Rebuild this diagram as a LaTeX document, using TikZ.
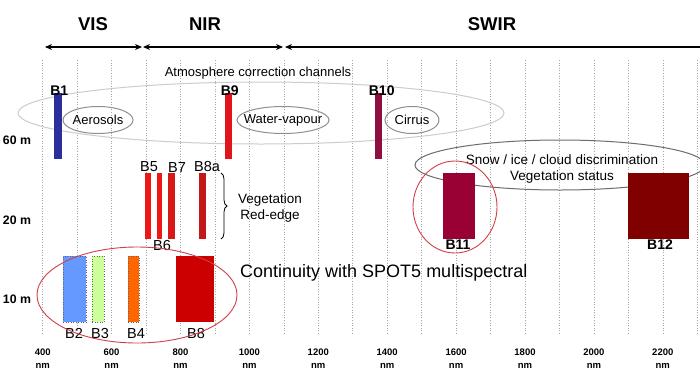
\documentclass[tikz,border=0pt]{standalone}
\usepackage{fontspec}
\setmainfont{Liberation Sans}
\usetikzlibrary{shapes.geometric,arrows.meta,decorations.pathreplacing}
\definecolor{cB1}{HTML}{2B2F9A}
\definecolor{cB9}{HTML}{E0141A}
\definecolor{cB10}{HTML}{8E1040}
\definecolor{cB5}{HTML}{F01616}
\definecolor{cB7}{HTML}{D81818}
\definecolor{cB8a}{HTML}{C41818}
\definecolor{cB2}{HTML}{6699FF}
\definecolor{cB3}{HTML}{CCFF99}
\definecolor{cB4}{HTML}{FF6600}
\definecolor{cB8}{HTML}{CC0000}
\definecolor{cB11}{HTML}{990033}
\definecolor{cB12}{HTML}{800000}
\definecolor{ellgray}{HTML}{909090}
\definecolor{ellred}{HTML}{D04048}
\tikzset{
  grid/.style={draw=gray!70, dotted, line width=0.6pt},
  bar/.style={rectangle, inner sep=0pt, anchor=north west, draw=none},
  bardot/.style={rectangle, inner sep=0pt, anchor=north west, draw=black!60, dotted, line width=0.5pt},
  blabel/.style={font=\fontsize{14}{14}\selectfont\bfseries, inner sep=0pt},
  blabelr/.style={font=\fontsize{14.5}{14}\selectfont, inner sep=0pt},
  head/.style={font=\fontsize{18.5}{18}\selectfont\bfseries, inner sep=0pt},
  axlab/.style={font=\fontsize{9.5}{13}\selectfont\bfseries, align=center, inner sep=0pt},
  reslab/.style={font=\fontsize{12.3}{12}\selectfont\bfseries, inner sep=0pt},
  txt/.style={font=\fontsize{13}{16}\selectfont, align=center, inner sep=0pt},
  ellg/.style={ellipse, draw=ellgray, line width=1pt, inner sep=0pt},
  ellr/.style={ellipse, draw=ellred, line width=0.9pt, inner sep=0pt},
  rng/.style={line width=1.4pt, black},
}
\begin{document}
\begin{tikzpicture}[x=1pt,y=-1pt]
\useasboundingbox[fill=white] (0,0) rectangle (700,383);
% grid lines and axis labels
\foreach \i in {0,...,19} {
  \pgfmathsetmacro{\xx}{42.7+34.45*\i}
  \draw[grid] (\xx,60) -- (\xx,334);
}
\foreach \i/\lam in {0/400,2/600,4/800,6/1000,8/1200,10/1400,12/1600,14/1800,16/2000,18/2200} {
  \pgfmathsetmacro{\xx}{42.7+34.45*\i}
  \node[axlab] (ax\lam) at (\xx,359) {\lam\\nm};
}
% headers
\node[head] (vis) at (93,24) {VIS};
\node[head] (nir) at (205,24) {NIR};
\node[head] (swir) at (492,24) {SWIR};
\coordinate (a0) at (45,47);
\coordinate (a1) at (142,47);
\coordinate (a2) at (143,47);
\coordinate (a3) at (283,47);
\coordinate (a4) at (285,47);
\coordinate (a5) at (700,47);
\draw[rng, {Stealth[length=7pt,width=6pt]}-{Stealth[length=7pt,width=6pt]}] (a0) -- (a1);
\draw[rng, {Stealth[length=7pt,width=6pt]}-{Stealth[length=7pt,width=6pt]}] (a2) -- (a3);
\draw[rng, {Stealth[length=7pt,width=6pt]}-] (a4) -- (a5);
% atmosphere ellipses
\node[ellg, minimum width=486pt, minimum height=62pt, draw=gray!40] (atm) at (261,113) {};
\node[txt] (atmtxt) at (258,73) {Atmosphere correction channels};
\node[ellg, minimum width=70pt, minimum height=27pt] (aer) at (98,120) {};
\node[txt] at (aer.center) {Aerosols};
\node[ellg, minimum width=92pt, minimum height=27pt] (wv) at (283,120) {};
\node[txt] at (wv.center) {Water-vapour};
\node[ellg, minimum width=54pt, minimum height=27pt] (cir) at (412,120) {};
\node[txt] at (cir.center) {Cirrus};
% 60 m bands
\node[bar, fill=cB1, minimum width=8pt, minimum height=66pt] (b1) at (54,93) {};
\node[blabel, anchor=south] at ([xshift=1pt,yshift=-3pt]b1.north) {B1};
\node[bar, fill=cB9, minimum width=7pt, minimum height=66pt] (b9) at (225,93) {};
\node[blabel, anchor=south] at ([xshift=1pt,yshift=-3pt]b9.north) {B9};
\node[bar, fill=cB10, minimum width=7pt, minimum height=66pt] (b10) at (375,93) {};
\node[blabel, anchor=south] at ([xshift=3pt,yshift=-3pt]b10.north) {B10};
% resolution labels
\node[reslab] (r60) at (17,140) {60 m};
\node[reslab] (r20) at (17,220) {20 m};
\node[reslab] (r10) at (17,299) {10 m};
% 20 m red-edge bands
\node[bar, fill=cB5, minimum width=6pt, minimum height=66pt] (b5) at (145,173) {};
\node[bar, fill=cB5, minimum width=5pt, minimum height=66pt] (b6) at (157,173) {};
\node[bar, fill=cB7, minimum width=7pt, minimum height=66pt] (b7) at (168,173) {};
\node[bar, fill=cB8a, minimum width=7pt, minimum height=66pt] (b8a) at (199,173) {};
\node[blabelr, anchor=south] at (149,172) {B5};
\node[blabelr, anchor=north] at (162,240) {B6};
\node[blabelr, anchor=south] at (177,173) {B7};
\node[blabelr, anchor=south] at (207,172) {B8a};
\coordinate (brt) at (221,173);
\coordinate (brb) at (221,239);
\draw[decorate, decoration={brace, amplitude=6pt}, line width=0.8pt] (brt) -- (brb);
\node[txt, font=\fontsize{13.5}{16}\selectfont] (veg) at (270,208) {Vegetation\\Red-edge};
% 10 m bands
\node[bardot, fill=cB2, minimum width=23pt, minimum height=66pt] (b2) at (63,256) {};
\node[bardot, fill=cB3, minimum width=12pt, minimum height=66pt] (b3) at (92,256) {};
\node[bardot, fill=cB4, minimum width=11pt, minimum height=66pt] (b4) at (128,256) {};
\node[bar, fill=cB8, minimum width=38pt, minimum height=66pt] (b8) at (176,256) {};
\node[blabelr, anchor=north] at (74,328) {B2};
\node[blabelr, anchor=north] at (100,328) {B3};
\node[blabelr, anchor=north] at (136,328) {B4};
\node[blabelr, anchor=north] at (196,328) {B8};
\node[ellr, minimum width=200pt, minimum height=96pt] (spot) at (137,295) {};
\node[font=\fontsize{18}{18}\selectfont, inner sep=0pt, anchor=west] (cont) at (240,273) {Continuity with SPOT5 multispectral};
% SWIR 20 m bands
\node[ellg, minimum width=290pt, minimum height=50pt, draw=gray!85!black] (snow) at (560,165) {};
\node[txt, font=\fontsize{13.5}{16}\selectfont] (snowtxt) at (562,169) {Snow / ice / cloud discrimination\\Vegetation status};
\node[bar, fill=cB11, minimum width=32pt, minimum height=66pt] (b11) at (443,173) {};
\node[bar, fill=cB12, minimum width=61pt, minimum height=66pt] (b12) at (628,173) {};
\node[blabel, anchor=north] at (458,240) {B11};
\node[blabel, anchor=north] at (660,240) {B12};
\node[ellr, minimum width=84pt, minimum height=92pt] (e11) at (455,207) {};
\end{tikzpicture}
\end{document}
